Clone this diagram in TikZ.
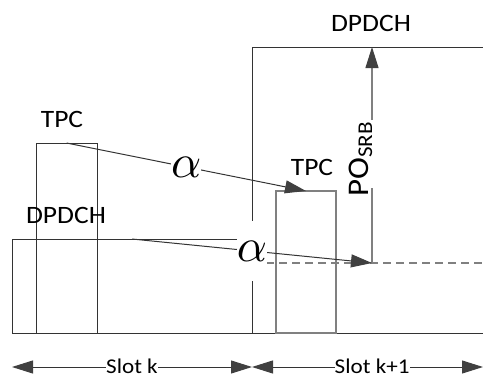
\documentclass[tikz,border=0pt]{standalone}
\usepackage{fontspec}
\setmainfont{Carlito}[FakeStretch=1.1]
\usetikzlibrary{arrows.meta}
\begin{document}
\begin{tikzpicture}[x=1pt,y=-1pt,
  dark/.style={draw=black!80, line width=1pt},
  lite/.style={draw=black!50, line width=1.1pt},
  box/.style={dark, inner sep=0pt, outer sep=0pt},
  tip/.style={-{Triangle[length=21pt,width=13pt,color=black!75]}},
  both/.style={{Triangle[length=21pt,width=13pt,color=black!75]}-{Triangle[length=21pt,width=13pt,color=black!75]}},
  lbl/.style={font=\fontsize{25}{25}\selectfont, inner sep=0pt, anchor=base, text=black},
  alph/.style={fill=white, inner sep=0pt, minimum width=30pt, minimum height=60pt},
  slot/.style={fill=white, inner sep=0pt, yshift=1pt, font=\fontsize{21}{21}\selectfont},
]
\useasboundingbox (0,0) rectangle (483,378);

% boxes
\node[box, minimum width=240pt, minimum height=94pt] (dpdchL) at (132,286) {};
\node[box, minimum width=240pt, minimum height=286pt] (big) at (372,190) {};
\node[box, minimum width=61pt, minimum height=190pt] (tpcL) at (66.5,238) {};
\node[box, lite, minimum width=60pt, minimum height=142pt] (tpcR) at (306,262) {};

% labels
\node[lbl] (tDP) at (371,31) {DPDCH};
\node[lbl] (tTL) at (62,127) {TPC};
\node[lbl] (tTR) at (312,175) {TPC};
\node[lbl] (tDL) at (66,223) {DPDCH};

% PO_SRB
\coordinate (poB) at (372,263);
\coordinate (poL) at (372,188);
\coordinate (poU) at (372,120);
\coordinate (dashL) at (240,263);
\coordinate (dashR) at (483,263);
\draw[lite, dash pattern=on 8pt off 5pt] (dashL) -- (dashR);
\draw[lite] (poB) -- (poL);
\draw[lite, tip] (poU) -- (big.north);
\node[rotate=90, anchor=base west, inner sep=0pt, font=\fontsize{30}{30}\selectfont] (poT) at (368,197) {PO\raisebox{-4pt}{\fontsize{21}{21}\selectfont SRB}};

% alpha arrows
\draw[dark, tip] (tpcL.north) -- node[alph] (a1) {\scalebox{4.7}{$\alpha$}} (tpcR.north);
\draw[dark, tip] (dpdchL.north) -- node[alph] (a2) {\scalebox{4.7}{$\alpha$}} (poB);

% slot arrows
\coordinate (s0) at (12,367);
\coordinate (s1) at (252,367);
\coordinate (s2) at (483,367);
\draw[dark, both] (s0) -- node[slot] (sk) {Slot k} (s1);
\draw[dark, both] (s1) -- node[slot, pos=0.52] (sk1) {Slot k+1} (s2);
\end{tikzpicture}
\end{document}
